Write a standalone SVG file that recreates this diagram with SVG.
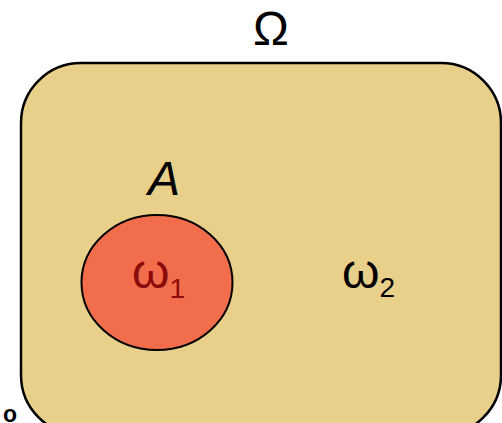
<svg xmlns="http://www.w3.org/2000/svg" width="502" height="423" viewBox="0 0 502 423">
<style>
text{font-family:"Liberation Sans",Arial,sans-serif;}
.big{font-size:48px;fill:#000;}
.sub{font-size:28px;}
</style>
<rect width="502" height="423" fill="#fff"/>
<g id="omega">
<rect x="21" y="63" width="480" height="372" rx="60" ry="60" fill="#E8CF8A" stroke="#000" stroke-width="2.5"/>
<text x="271" y="45" class="big" text-anchor="middle" font-size="42">Ω</text>
<text x="342" y="288" class="big">ω<tspan class="sub" dy="9">2</tspan></text>
</g>
<g id="A">
<ellipse cx="157" cy="282.5" rx="75.5" ry="67.5" fill="#F26D4B" stroke="#000" stroke-width="2"/>
<text x="148" y="195" class="big" font-style="italic" font-size="44">A</text>
<text x="132" y="288" class="big" style="fill:#8B0A0A">ω<tspan class="sub" dy="10">1</tspan></text>
</g>
<text x="3" y="422" font-size="23" font-weight="bold" fill="#000">o</text>
</svg>
